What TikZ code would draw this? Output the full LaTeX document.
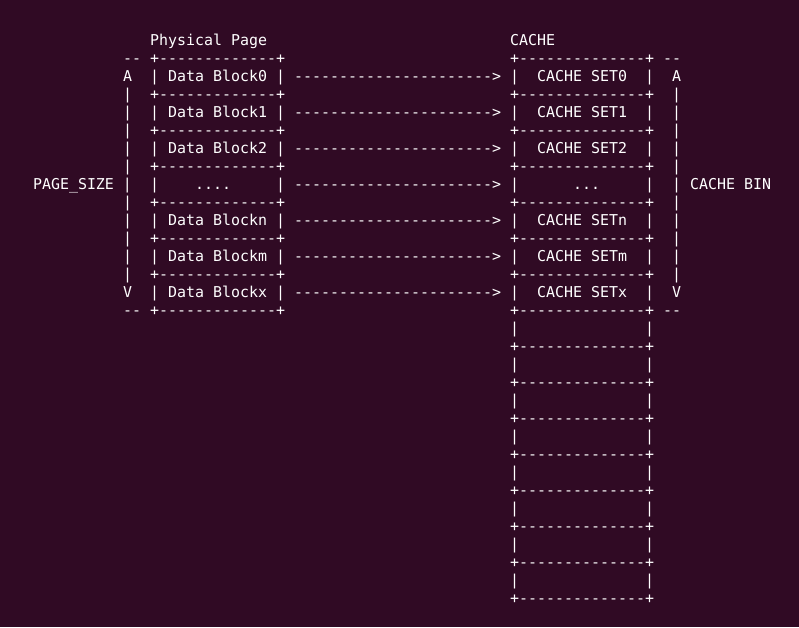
\documentclass[tikz,border=0pt]{standalone}
\usepackage{fontspec}
\newfontfamily\termfont{DejaVu Sans Mono}[Ligatures=TeXOff]
\usepackage{tikz}
\usetikzlibrary{positioning}
\usepackage{xcolor}
\definecolor{termbg}{HTML}{300A24}
\definecolor{termfg}{HTML}{FFFFFF}
\newcommand\blkgap{\ \ \ ....\ \ \ \ }
\newcommand\setgap{\ \ \ \ \ ...\ \ \ \ }
\newcommand\dashes[1]{\foreach \i in {1,...,#1}{-}}

\begin{document}
\begin{tikzpicture}[x=1pt,y=-1pt,
ch/.style={font=\termfont\fontsize{14.95}{18}\selectfont,text=termfg,
  inner sep=0pt,outer sep=0pt,anchor=base west}]
\useasboundingbox (0,0) rectangle (799,627);
\fill[termbg] (0,0) rectangle (799,627);
% column c starts at 33+9c, text line r sits on 45.5+18r

\node[ch] (phys) at (150,45.5) {Physical Page};
\node[ch] (cache) at (510,45.5) {CACHE};

% page blocks -> cache sets
\foreach \l/\s [count=\k from 0] in {Data Block0/\ CACHE SET0\ ,
    Data Block1/\ CACHE SET1\ ,
    Data Block2/\ CACHE SET2\ ,
    \blkgap/\setgap,
    Data Blockn/\ CACHE SETn\ ,
    Data Blockm/\ CACHE SETm\ ,
    Data Blockx/\ CACHE SETx\ }
{
  \node[ch] (blk\k) at (150,{81.5+36*\k}) {|\ \l\ |};
  \node[ch] (set\k) at (510,{81.5+36*\k}) {|\ \s\ |};
  \path (blk\k.base east) -- (set\k.base west)
    node[ch,midway,anchor=base] (arr\k) {\dashes{22}>};
}

% borders
\foreach \k in {0,...,7}
  \node[ch] (lb\k) at (150,{63.5+36*\k}) {+\dashes{13}+};
\foreach \k in {0,...,15}
  \node[ch] (rb\k) at (510,{63.5+36*\k}) {+\dashes{14}+};
% unused sets
\foreach \k in {0,...,7}
  \node[ch] (free\k) at (510,{333.5+36*\k}) {|\hspace{126pt}|};

% page size marker
\node[ch] (ltop) at (123,63.5) {\dashes{2}};
\node[ch] (lA) at (123,81.5) {A};
\foreach \r in {3,4,5,6,7,9,10,11,12,13}
  \node[ch] (lbar\r) at (123,{45.5+18*\r}) {|};
\node[ch] (size) at (33,189.5) {PAGE\_SIZE |};
\node[ch] (lV) at (123,297.5) {V};
\node[ch] (lbot) at (123,315.5) {\dashes{2}};

% cache bin marker
\node[ch] (rtop) at (663,63.5) {\dashes{2}};
\node[ch] (rA) at (672,81.5) {A};
\foreach \r in {3,4,5,6,7,9,10,11,12,13}
  \node[ch] (rbar\r) at (672,{45.5+18*\r}) {|};
\node[ch] (bin) at (672,189.5) {| CACHE BIN};
\node[ch] (rV) at (672,297.5) {V};
\node[ch] (rbot) at (663,315.5) {\dashes{2}};
\end{tikzpicture}
\end{document}
